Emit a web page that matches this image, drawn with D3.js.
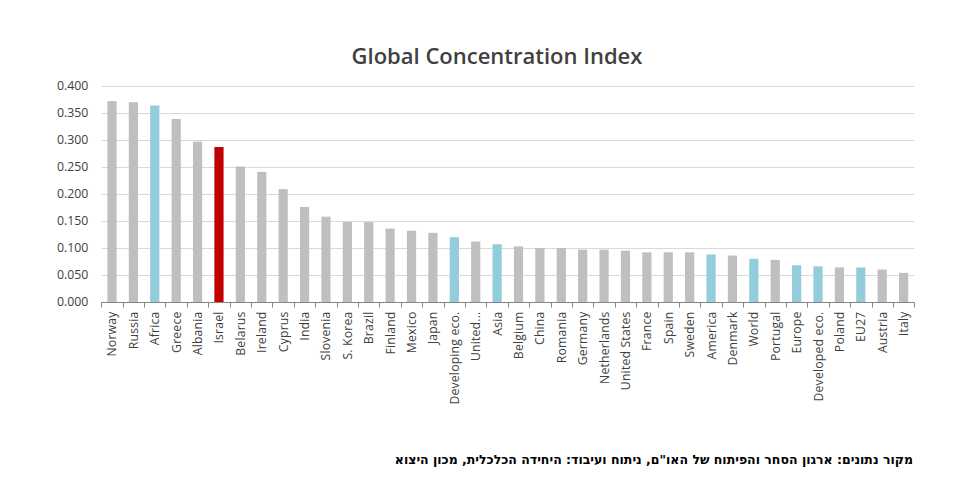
<!DOCTYPE html>
<html><head><meta charset="utf-8">
<script src="https://cdn.jsdelivr.net/npm/d3@7"></script>
<style>body{margin:0;background:#fff}svg{display:block}</style>
</head><body>
<svg id="c" width="980" height="492"></svg>
<script>
const categories = ["Norway","Russia","Africa","Greece","Albania","Israel","Belarus","Ireland","Cyprus","India","Slovenia","S. Korea","Brazil","Finland","Mexico","Japan","Developing eco.","United...","Asia","Belgium","China","Romania","Germany","Netherlands","United States","France","Spain","Sweden","America","Denmark","World","Portugal","Europe","Developed eco.","Poland","EU27","Austria","Italy"];
const values = [0.372,0.370,0.364,0.339,0.297,0.287,0.251,0.241,0.209,0.176,0.158,0.148,0.148,0.136,0.132,0.128,0.120,0.112,0.107,0.103,0.100,0.100,0.097,0.097,0.095,0.092,0.092,0.092,0.088,0.086,0.080,0.078,0.068,0.066,0.064,0.064,0.060,0.054];
const regions = ["Africa","Developing eco.","Asia","America","World","Europe","Developed eco.","EU27"];
const highlight = ["Israel"];
const yTicks = [0,0.05,0.1,0.15,0.2,0.25,0.3,0.35,0.4];
const title = "Global Concentration Index";
const source = "מקור נתונים: ארגון הסחר והפיתוח של האו\"ם, ניתוח ועיבוד: היחידה הכלכלית, מכון היצוא";

const svg = d3.select("#c");
const x = d3.scaleBand().domain(categories).range([101.3, 914.3]).paddingInner(0.57).paddingOuter(0.285);
const y = d3.scaleLinear().domain([0, 0.4]).range([302, 86]);

// gridlines
svg.append("g").selectAll("line").data(yTicks.slice(1)).join("line")
  .attr("x1", 101.3).attr("x2", 914.3)
  .attr("y1", d => Math.round(y(d)) + 0.5).attr("y2", d => Math.round(y(d)) + 0.5)
  .attr("stroke", "#d9d9d9").attr("stroke-width", 1);

// y labels
const ya = svg.append("g").attr("transform", "translate(101.3,0)")
  .call(d3.axisLeft(y).tickValues(yTicks).tickFormat(d3.format(".3f")).tickSize(0).tickPadding(13));
ya.select(".domain").remove();
ya.selectAll("text").attr("font-family", "Open Sans, Liberation Sans, sans-serif").attr("font-size", 12.3).attr("fill", "#404040");

// bars
svg.append("g").selectAll("rect").data(categories).join("rect")
  .attr("x", d => x(d)).attr("width", x.bandwidth())
  .attr("y", (d, i) => y(values[i])).attr("height", (d, i) => y(0) - y(values[i]))
  .attr("fill", d => highlight.includes(d) ? "#c00000" : regions.includes(d) ? "#92cddc" : "#bfbfbf");

// x axis
const step = x.step();
const xa = svg.append("g").attr("transform", "translate(0,302.5)");
xa.append("line").attr("x1", 101.3).attr("x2", 914.3).attr("stroke", "#868686");
xa.selectAll("line.t").data(d3.range(categories.length + 1)).join("line").attr("class", "t")
  .attr("x1", i => Math.round(101.3 + i * step) + 0.5).attr("x2", i => Math.round(101.3 + i * step) + 0.5)
  .attr("y1", 0).attr("y2", 5).attr("stroke", "#868686");
xa.selectAll("text").data(categories).join("text")
  .attr("transform", d => `translate(${x(d) + x.bandwidth() / 2 + 4.5},9) rotate(-90)`)
  .attr("text-anchor", "end")
  .attr("font-family", "Open Sans, Liberation Sans, sans-serif").attr("font-size", 12.2).attr("fill", "#404040")
  .attr("letter-spacing", 0.2)
  .text(d => d);

// title
svg.append("text").attr("x", 497).attr("y", 64).attr("text-anchor", "middle")
  .attr("font-family", "Open Sans, sans-serif").attr("font-weight", 600).attr("font-size", 22).attr("fill", "#404040")
  .text(title);

// source
svg.append("text").attr("x", 913).attr("y", 464).attr("text-anchor", "start").attr("direction", "rtl")
  .attr("font-family", "DejaVu Sans, sans-serif").attr("font-weight", "bold").attr("font-size", 12.5).attr("fill", "#000")
  .text(source);
</script>
</body></html>
